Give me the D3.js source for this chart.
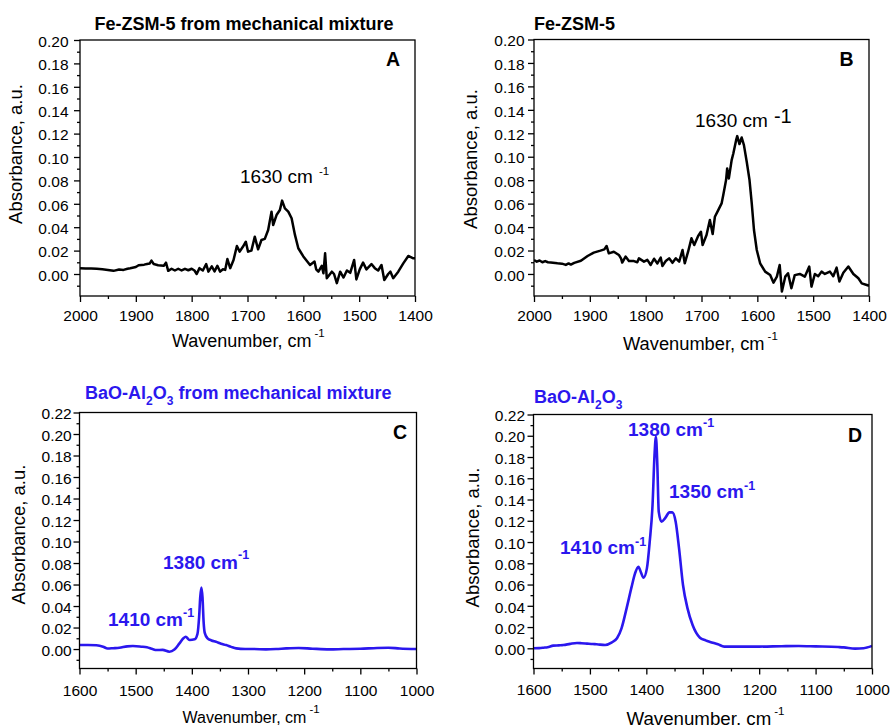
<!DOCTYPE html>
<html>
<head>
<meta charset="utf-8">
<script src="https://cdn.jsdelivr.net/npm/d3@7"></script>
<style>
  body { margin: 0; background: #fff; }
  svg { display: block; }
  text { font-family: "Liberation Sans", Arial, Helvetica, sans-serif; }
</style>
</head>
<body>
<svg id="chart" width="891" height="725"></svg>
<script>
// ---------- Spectra (wavenumber in cm-1, absorbance in a.u.) ----------

// A: Fe-ZSM-5 from mechanical mixture
const fezsmMixWn = [2000,1990,1980,1970,1960,1950,1940,1930,1922,1915,1910,1900,1895,1885,1880,1875,1872,1868,1860,1850,1846,1842,1836,1830,1824,1818,1812,1806,1800,1795,1791,1786,1780,1774,1770,1764,1759,1754,1749,1744,1740,1736,1731,1725,1719,1714,1708,1703,1699,1693,1687,1681,1675,1669,1663,1657,1654,1648,1642,1638,1633,1627,1621,1615,1609,1600,1588,1580,1577,1573,1567,1564,1561,1558,1549,1545,1540,1534,1528,1522,1516,1509,1505,1499,1493,1487,1478,1472,1466,1460,1455,1448,1444,1439,1430,1421,1412,1403,1400];
const fezsmMixAbs = [0.0050,0.0048,0.0047,0.0044,0.0040,0.0035,0.0027,0.0038,0.0035,0.0045,0.0049,0.0060,0.0075,0.0080,0.0085,0.0090,0.0114,0.0085,0.0075,0.0070,0.0097,0.0027,0.0045,0.0030,0.0045,0.0030,0.0044,0.0032,0.0045,0.0030,0.0000,0.0050,0.0030,0.0085,0.0020,0.0065,0.0022,0.0070,0.0020,0.0040,0.0035,0.0128,0.0050,0.0120,0.0239,0.0191,0.0235,0.0276,0.0191,0.0200,0.0319,0.0211,0.0291,0.0300,0.0376,0.0533,0.0419,0.0504,0.0547,0.0627,0.0561,0.0533,0.0476,0.0334,0.0220,0.0150,0.0077,0.0106,0.0040,0.0020,0.0070,0.0006,0.0177,-0.0036,0.0020,0.0000,-0.0078,0.0020,-0.0030,0.0030,0.0010,0.0120,-0.0046,0.0040,0.0097,0.0040,0.0085,0.0050,0.0030,0.0077,-0.0051,0.0000,0.0020,-0.0036,0.0020,0.0091,0.0154,0.0134,0.0134];

// B: Fe-ZSM-5
const fezsmWn = [2000,1995,1990,1985,1980,1975,1970,1958,1950,1943,1938,1934,1928,1916,1904,1893,1881,1874,1870,1866,1857,1848,1844,1842,1836,1830,1821,1815,1812,1803,1797,1791,1785,1779,1773,1770,1764,1758,1752,1746,1740,1734,1730,1724,1718,1713,1706,1701,1698,1691,1685,1680,1676,1670,1664,1661,1656,1654,1651,1646,1643,1638,1636,1632,1628,1624,1619,1614,1610,1606,1601,1595,1586,1577,1571,1565,1560,1556,1550,1545,1539,1533,1524,1515,1507,1503,1497,1491,1485,1479,1470,1464,1458,1453,1446,1437,1428,1419,1413,1404,1400];
const fezsmAbs = [0.0119,0.0105,0.0115,0.0100,0.0110,0.0100,0.0097,0.0091,0.0088,0.0077,0.0090,0.0080,0.0095,0.0113,0.0153,0.0182,0.0199,0.0210,0.0239,0.0176,0.0190,0.0162,0.0130,0.0097,0.0148,0.0110,0.0110,0.0100,0.0133,0.0105,0.0120,0.0077,0.0130,0.0090,0.0139,0.0068,0.0110,0.0133,0.0095,0.0133,0.0105,0.0204,0.0091,0.0190,0.0304,0.0247,0.0324,0.0360,0.0247,0.0332,0.0460,0.0340,0.0488,0.0545,0.0602,0.0673,0.0801,0.0900,0.0815,0.0971,0.1028,0.1141,0.1176,0.1108,0.1164,0.1099,0.0957,0.0801,0.0602,0.0375,0.0204,0.0091,0.0020,-0.0009,-0.0074,-0.0023,0.0077,-0.0150,-0.0023,0.0006,-0.0122,-0.0010,0.0000,-0.0023,0.0063,-0.0108,0.0000,-0.0020,0.0020,0.0000,0.0020,-0.0020,0.0054,-0.0065,0.0010,0.0063,0.0000,-0.0037,-0.0080,-0.0094,-0.0100];

// C: BaO-Al2O3 from mechanical mixture
const baoMixWn = [1600,1585,1570,1558,1550,1540,1529,1515,1505,1490,1480,1470,1463,1452,1440,1431,1422,1415,1411,1404,1395,1390,1387,1385,1383,1381,1379,1377,1372,1365,1357,1348,1339,1330,1321,1305,1290,1268,1250,1232,1210,1185,1155,1130,1100,1070,1050,1030,1000];
const baoMixAbs = [0.0037,0.0038,0.0035,0.0022,0.0005,0.0008,0.0012,0.0025,0.0028,0.0022,0.0016,0.0000,-0.0009,-0.0008,-0.0025,-0.0005,0.0053,0.0100,0.0115,0.0084,0.0090,0.0140,0.0300,0.0486,0.0573,0.0480,0.0250,0.0150,0.0099,0.0080,0.0068,0.0050,0.0037,0.0020,0.0006,0.0000,0.0000,-0.0003,0.0000,0.0006,0.0010,0.0003,-0.0003,0.0000,0.0003,0.0010,0.0012,0.0005,0.0000];

// D: BaO-Al2O3
const baoWn = [1600,1590,1582,1575,1565,1555,1547,1535,1523,1515,1505,1495,1488,1473,1461,1452,1444,1435,1426,1420,1414,1410,1405,1399,1394,1389,1385.5,1383,1380.5,1378,1373,1367,1359,1354,1348,1342,1335,1327,1318,1305,1295,1287,1273,1262,1250,1200,1160,1130,1100,1060,1050,1030,1015,1000];
const baoAbs = [0.0000,0.0002,0.0006,0.0010,0.0025,0.0028,0.0031,0.0042,0.0050,0.0048,0.0044,0.0040,0.0038,0.0031,0.0056,0.0094,0.0188,0.0376,0.0580,0.0705,0.0768,0.0721,0.0664,0.0752,0.1003,0.1348,0.1818,0.1990,0.1724,0.1285,0.1191,0.1222,0.1279,0.1279,0.1191,0.0940,0.0596,0.0376,0.0219,0.0100,0.0075,0.0060,0.0038,0.0016,0.0016,0.0016,0.0020,0.0022,0.0018,0.0012,0.0009,-0.0003,0.0000,0.0022];

// ---------- Axis ticks ----------
const feXMajor = [2000,1900,1800,1700,1600,1500,1400];
const feXMinor = [1950,1850,1750,1650,1550,1450];
const feYMajor = [0.00,0.02,0.04,0.06,0.08,0.10,0.12,0.14,0.16,0.18,0.20];
const feYMinor = [-0.01,0.01,0.03,0.05,0.07,0.09,0.11,0.13,0.15,0.17,0.19];
const baXMajor = [1600,1500,1400,1300,1200,1100,1000];
const baXMinor = [1550,1450,1350,1250,1150,1050];
const baYMajor = [0.00,0.02,0.04,0.06,0.08,0.10,0.12,0.14,0.16,0.18,0.20,0.22];
const baYMinor = [-0.01,0.01,0.03,0.05,0.07,0.09,0.11,0.13,0.15,0.17,0.19,0.21];

// ---------- Labels ----------
const peakLabelsC = [["1380 cm", "-1"], ["1410 cm", "-1"]];
const peakLabelsD = [["1380 cm", "-1"], ["1350 cm", "-1"], ["1410 cm", "-1"]];

const BLUE = "#2b17ee";
const FONT = '"Liberation Sans", Arial, Helvetica, sans-serif';
const svg = d3.select("#chart");

function drawPanel(p) {
  const g = svg.append("g");
  const x = d3.scaleLinear().domain(p.xDomain).range([p.left, p.right]);
  const y = d3.scaleLinear().domain(p.yDomain).range([p.bottom, p.top]);

  // clip for the spectrum
  const clipId = "clip-" + p.letter;
  svg.append("clipPath").attr("id", clipId).append("rect")
    .attr("x", p.left).attr("y", p.top)
    .attr("width", p.right - p.left).attr("height", p.bottom - p.top);

  // bottom axis: major ticks with labels, minor ticks without
  const gx = g.append("g").attr("transform", `translate(0,${p.bottom})`)
    .call(d3.axisBottom(x).tickValues(p.xMajor).tickSize(6).tickSizeOuter(0).tickFormat(d3.format("d")));
  gx.select(".domain").remove();
  gx.attr("font-family", FONT).attr("font-size", 15.5);
  gx.selectAll("line").attr("stroke-width", 1.3);
  gx.selectAll("text").attr("y", p.xTickBase).attr("dy", null).attr("fill", "#000");

  const gxm = g.append("g").attr("transform", `translate(0,${p.bottom})`)
    .call(d3.axisBottom(x).tickValues(p.xMinor).tickSize(3).tickSizeOuter(0).tickFormat(""));
  gxm.select(".domain").remove();
  gxm.selectAll("line").attr("stroke-width", 1.3);

  // left axis
  const gy = g.append("g").attr("transform", `translate(${p.left},0)`)
    .call(d3.axisLeft(y).tickValues(p.yMajor).tickSize(6).tickSizeOuter(0)
      .tickPadding(p.yPad).tickFormat(d3.format(".2f")));
  gy.select(".domain").remove();
  gy.attr("font-family", FONT).attr("font-size", 15.5);
  gy.selectAll("line").attr("stroke-width", 1.3);
  gy.selectAll("text").attr("dy", "0.4em").attr("fill", "#000");

  const gym = g.append("g").attr("transform", `translate(${p.left},0)`)
    .call(d3.axisLeft(y).tickValues(p.yMinor).tickSize(3).tickSizeOuter(0).tickFormat(""));
  gym.select(".domain").remove();
  gym.selectAll("line").attr("stroke-width", 1.3);

  // spectrum
  const pts = d3.zip(p.wn, p.abs);
  const line = d3.line().x(d => x(d[0])).y(d => y(d[1])).curve(p.curve);
  g.append("path").datum(pts)
    .attr("clip-path", `url(#${clipId})`)
    .attr("d", line)
    .attr("fill", "none")
    .attr("stroke", p.color)
    .attr("stroke-width", p.lineWidth)
    .attr("stroke-linejoin", "round");

  // frame
  g.append("rect")
    .attr("x", p.left).attr("y", p.top)
    .attr("width", p.right - p.left).attr("height", p.bottom - p.top)
    .attr("fill", "none").attr("stroke", "#000").attr("stroke-width", 1.3);

  // panel letter
  g.append("text").attr("x", p.letterX).attr("y", p.letterY)
    .attr("text-anchor", "middle").attr("font-weight", "bold").attr("font-size", 19.5)
    .text(p.letter);

  // y axis title
  g.append("text")
    .attr("transform", `translate(${p.yTitleX},${p.yTitleY}) rotate(-90)`)
    .attr("text-anchor", "middle").attr("font-size", 18.5)
    .text("Absorbance, a.u.");

  // x axis title with superscript
  const xt = g.append("text").attr("x", p.xTitleX).attr("y", p.xTitleY)
    .attr("font-size", p.xTitleSize);
  xt.append("tspan").text("Wavenumber, cm");
  xt.append("tspan").attr("dx", 3).attr("dy", -10).attr("font-size", 11.5).text("-1");

  return g;
}

function addLabel(g, x, y, main, sup, opts) {
  const t = g.append("text").attr("x", x).attr("y", y)
    .attr("font-size", opts.size).attr("fill", opts.color)
    .attr("font-weight", opts.bold ? "bold" : "normal");
  t.append("tspan").text(main);
  t.append("tspan").attr("dx", opts.supDx).attr("dy", opts.supDy)
    .attr("font-size", opts.supSize).text(sup);
  return t;
}

// ---------- Panel A ----------
const gA = drawPanel({
  letter: "A", wn: fezsmMixWn, abs: fezsmMixAbs,
  xDomain: [2000, 1400], yDomain: [-0.0188, 0.20],
  xMajor: feXMajor, xMinor: feXMinor, yMajor: feYMajor, yMinor: feYMinor,
  left: 80, right: 415, top: 40, bottom: 296,
  xTickBase: 25, yPad: 5.5,
  color: "#000", lineWidth: 2.5, curve: d3.curveLinear,
  letterX: 393, letterY: 66,
  yTitleX: 22, yTitleY: 154,
  xTitleX: 172, xTitleY: 347, xTitleSize: 18
});
gA.append("text").attr("x", 244).attr("y", 30).attr("text-anchor", "middle")
  .attr("font-weight", "bold").attr("font-size", 18).text("Fe-ZSM-5 from mechanical mixture");
addLabel(gA, 240, 183, "1630 cm", "-1",
  { size: 19, color: "#000", bold: false, supDx: 6, supDy: -8, supSize: 11.5 });

// ---------- Panel B ----------
const gB = drawPanel({
  letter: "B", wn: fezsmWn, abs: fezsmAbs,
  xDomain: [2000, 1400], yDomain: [-0.0188, 0.20],
  xMajor: feXMajor, xMinor: feXMinor, yMajor: feYMajor, yMinor: feYMinor,
  left: 534, right: 869, top: 39.5, bottom: 296,
  xTickBase: 25, yPad: 3.5,
  color: "#000", lineWidth: 2.5, curve: d3.curveLinear,
  letterX: 846.5, letterY: 66,
  yTitleX: 477, yTitleY: 159,
  xTitleX: 623, xTitleY: 350, xTitleSize: 18.3
});
gB.append("text").attr("x", 534).attr("y", 30)
  .attr("font-weight", "bold").attr("font-size", 18).text("Fe-ZSM-5");
addLabel(gB, 695, 127, "1630 cm", "-1",
  { size: 19, color: "#000", bold: false, supDx: 6, supDy: -4, supSize: 20 });

// ---------- Panel C ----------
const gC = drawPanel({
  letter: "C", wn: baoMixWn, abs: baoMixAbs,
  xDomain: [1600, 1000], yDomain: [-0.0181, 0.22],
  xMajor: baXMajor, xMinor: baXMinor, yMajor: baYMajor, yMinor: baYMinor,
  left: 79.5, right: 416.5, top: 412.5, bottom: 668.5,
  xTickBase: 27.5, yPad: 1.8,
  color: BLUE, lineWidth: 2.6, curve: d3.curveMonotoneX,
  letterX: 400, letterY: 439,
  yTitleX: 25, yTitleY: 534.5,
  xTitleX: 182.5, xTitleY: 723, xTitleSize: 16
});
const tC = gC.append("text").attr("x", 85).attr("y", 399)
  .attr("font-weight", "bold").attr("font-size", 18).attr("fill", BLUE);
tC.append("tspan").text("BaO-Al");
tC.append("tspan").attr("dy", 6).attr("font-size", 12).text("2");
tC.append("tspan").attr("dy", -6).text("O");
tC.append("tspan").attr("dy", 6).attr("font-size", 12).text("3");
tC.append("tspan").attr("dy", -6).text(" from mechanical mixture");
addLabel(gC, 163, 569, peakLabelsC[0][0], peakLabelsC[0][1],
  { size: 19, color: BLUE, bold: true, supDx: 0, supDy: -10, supSize: 12.5 });
addLabel(gC, 108, 626, peakLabelsC[1][0], peakLabelsC[1][1],
  { size: 19, color: BLUE, bold: true, supDx: 0, supDy: -9, supSize: 12.5 });

// ---------- Panel D ----------
const gD = drawPanel({
  letter: "D", wn: baoWn, abs: baoAbs,
  xDomain: [1600, 1000], yDomain: [-0.019, 0.22],
  xMajor: baXMajor, xMinor: baXMinor, yMajor: baYMajor, yMinor: baYMinor,
  left: 533.5, right: 872, top: 414.5, bottom: 668.5,
  xTickBase: 26, yPad: 2.5,
  color: BLUE, lineWidth: 2.6, curve: d3.curveMonotoneX,
  letterX: 855, letterY: 442,
  yTitleX: 479, yTitleY: 537.5,
  xTitleX: 626.5, xTitleY: 725, xTitleSize: 18.7
});
const tD = gD.append("text").attr("x", 534).attr("y", 403)
  .attr("font-weight", "bold").attr("font-size", 18).attr("fill", BLUE);
tD.append("tspan").text("BaO-Al");
tD.append("tspan").attr("dy", 6).attr("font-size", 12).text("2");
tD.append("tspan").attr("dy", -6).text("O");
tD.append("tspan").attr("dy", 6).attr("font-size", 12).text("3");
addLabel(gD, 628, 436, peakLabelsD[0][0], peakLabelsD[0][1],
  { size: 19, color: BLUE, bold: true, supDx: 0, supDy: -9, supSize: 12.5 });
addLabel(gD, 669, 498, peakLabelsD[1][0], peakLabelsD[1][1],
  { size: 19, color: BLUE, bold: true, supDx: 0, supDy: -8, supSize: 12.5 });
addLabel(gD, 560, 554, peakLabelsD[2][0], peakLabelsD[2][1],
  { size: 19, color: BLUE, bold: true, supDx: 0, supDy: -8, supSize: 12.5 });
</script>
</body>
</html>
